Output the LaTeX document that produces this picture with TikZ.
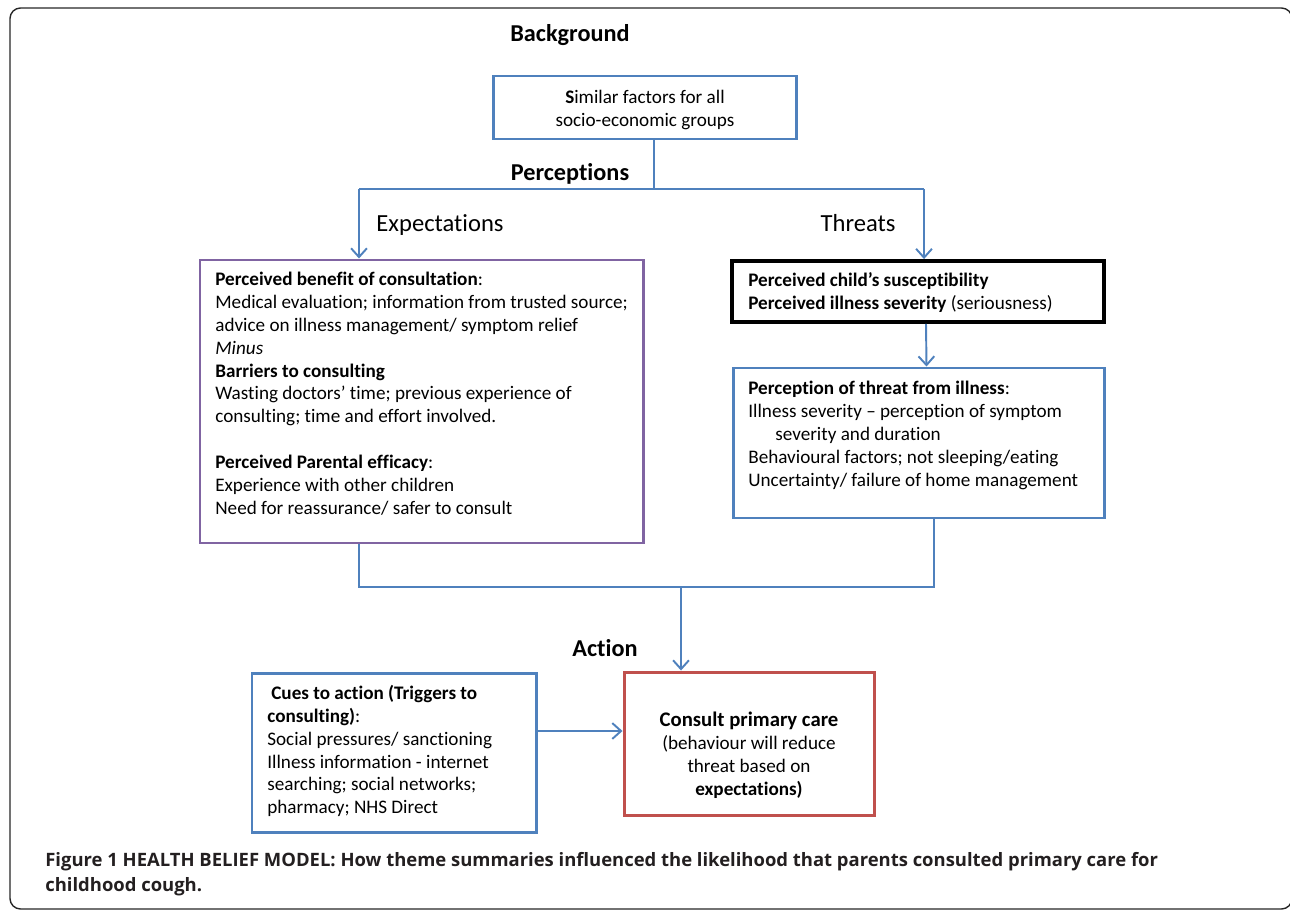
\documentclass[tikz,border=0pt]{standalone}
\usepackage{fontspec}
\setmainfont{Carlito}[Ligatures=NoCommon]
\newfontfamily\capfont{Open Sans}
\usetikzlibrary{arrows.meta,fit}
\definecolor{hbblue}{HTML}{4F81BD}
\definecolor{hbpurple}{HTML}{8064A2}
\definecolor{hbred}{HTML}{C0504D}
\definecolor{captext}{HTML}{231F20}

\begin{document}
\begin{tikzpicture}[x=0.02cm,y=-0.02cm,
    frame/.style={draw=#1,line width=1.7pt,inner sep=0pt},
    body/.style={font=\fontsize{10.9}{13}\selectfont,inner sep=0pt,align=left,anchor=north west},
    head/.style={font=\fontsize{13.8}{16}\selectfont\bfseries,anchor=base,inner sep=0pt},
    side/.style={font=\fontsize{14}{16}\selectfont,anchor=base,inner sep=0pt},
    conn/.style={draw=hbblue,line width=1.1pt},
    arr/.style={conn,-{Straight Barb[length=5pt,width=9pt]}},
    capline/.style={anchor=base west,inner sep=0pt,text=captext,font=\capfont\bfseries\fontsize{10.5}{14}\selectfont}]
  \useasboundingbox (0,0) rectangle (1290,912);
  \draw[line width=0.8pt,draw=black!85,rounded corners=6pt] (10,8) rectangle (1292,909);

  % headings
  \node[head] (bg) at (570,42) {Background};
  \node[head] (perc) at (570,180) {Perceptions};
  \node[side] (expt) at (440,231) {Expectations};
  \node[side] (thr) at (858,231) {Threats};
  \node[head] (act) at (605,656) {Action};

  % boxes
  \node[frame=hbblue,fit={(493,76) (796,139)}] (sim) {};
  \node[font=\fontsize{10.9}{13}\selectfont,align=center,inner sep=0pt] (simtxt) at (645,110)
    {\textbf{S}imilar factors for all\\socio-economic groups};

  \node[frame=hbpurple,fit={(200,260) (643,543)}] (benefit) {};
  \node[body] (benefittxt) at (215,272) {\textbf{Perceived benefit of consultation}:\\
    Medical evaluation; information from trusted source;\\
    advice on illness management/ symptom relief\\
    \textit{Minus}\\
    \textbf{Barriers to consulting}\\
    Wasting doctors’ time; previous experience of\\
    consulting; time and effort involved.\\[13pt]
    \textbf{Perceived Parental efficacy}:\\
    Experience with other children\\
    Need for reassurance/ safer to consult};

  \node[frame=black,line width=2.2pt,fit={(732,261) (1104,322)}] (suscept) {};
  \node[body] (susctxt) at (748,272) {\textbf{Perceived child’s susceptibility}\\
    \textbf{Perceived illness severity} (seriousness)};

  \node[frame=hbblue,fit={(733,368) (1104,518)}] (threat) {};
  \node[body] (threattxt) at (748,381) {\textbf{Perception of threat from illness}:\\
    Illness severity -- perception of symptom\\
    \hspace*{0.54cm}severity and duration\\
    Behavioural factors; not sleeping/eating\\
    Uncertainty/ failure of home management};

  \node[frame=hbblue,fit={(252,673) (536,832)}] (cues) {};
  \node[body] (cuestxt) at (267,685) {\hspace*{0.08cm}\textbf{Cues to action (Triggers to}\\
    \textbf{consulting)}:\\
    Social pressures/ sanctioning\\
    Illness information - internet\\
    searching; social networks;\\
    pharmacy; NHS Direct};

  \node[frame=hbred,fit={(624,672) (874,815)}] (consult) {};
  \node[font=\fontsize{10.9}{13}\selectfont,align=center,inner sep=0pt] (consulttxt) at (749,755)
    {{\fontsize{11.8}{14}\selectfont\textbf{Consult primary care}}\\(behaviour will reduce\\threat based on\\\textbf{expectations)}};

  % connectors
  \coordinate (forkM) at (654,189);
  \coordinate (forkL) at (359,189);
  \coordinate (forkR) at (924,189);
  \draw[conn] (sim.south -| forkM) -- (forkM);
  \draw[conn] (forkL) -- (forkR);
  \draw[arr] (forkL) -- (forkL |- benefit.north);
  \draw[arr] (forkR) -- (forkR |- suscept.north);
  \draw[arr] ([xshift=0.16cm]suscept.south) -- ([xshift=0.16cm]threat.north);

  \coordinate (joinL) at (359,587);
  \coordinate (joinR) at (934,587);
  \coordinate (joinM) at (681,587);
  \draw[conn] (benefit.south -| joinL) -- (joinL) -- (joinR) -- (threat.south -| joinR);
  \draw[arr] (joinM) -- (joinM |- consult.north);
  \coordinate (cueY) at (0,731);
  \draw[arr] (cues.east |- cueY) -- (consult.west |- cueY);

  % caption
  \node[capline] (cap1) at (45,866) {Figure 1 HEALTH BELIEF MODEL: How theme summaries influenced the likelihood that parents consulted primary care for};
  \node[capline] (cap2) at (45,891) {childhood cough.};
\end{tikzpicture}
\end{document}
